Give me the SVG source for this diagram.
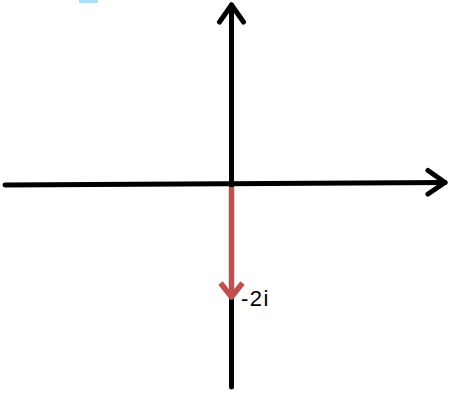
<svg xmlns="http://www.w3.org/2000/svg" width="450" height="396" viewBox="0 0 450 396">
<style>
.ax{stroke:#000;stroke-width:5;fill:none;stroke-linecap:round;stroke-linejoin:round}
.red{stroke:#c0504d;stroke-width:5.5;fill:none;stroke-linecap:butt;stroke-linejoin:round}
.lbl{font-family:"Liberation Sans",Arial,sans-serif;font-size:22px;letter-spacing:1.5px;fill:#000}
</style>
<rect x="79" y="0" width="19" height="3" fill="#a8e2f8"/>
<g id="connectors">
<g id="y-axis">
<line class="ax" x1="231.5" y1="387" x2="231.5" y2="5"/>
<polyline class="ax" points="219.5,22 231.5,5 243.5,22"/>
</g>
<g id="x-axis">
<line class="ax" x1="5" y1="185" x2="445" y2="182.5"/>
<polyline class="ax" points="428,170.5 445,182.5 428,194"/>
</g>
<g id="vector">
<line class="red" x1="231.5" y1="187" x2="231.5" y2="297"/>
<polyline class="red" points="220.5,283 231.5,297 242.5,283"/>
</g>
</g>
<g id="label">
<text class="lbl" x="241" y="306">-2i</text>
</g>
</svg>
